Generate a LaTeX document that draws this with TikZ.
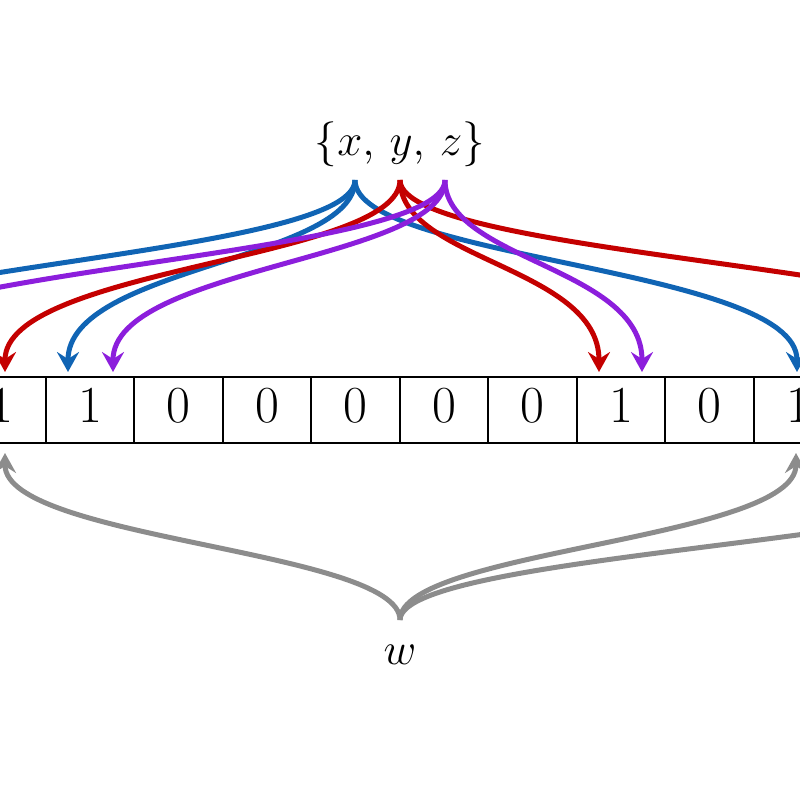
\RequirePackage{fix-cm}
\documentclass[tikz,border=0pt]{standalone}
\usetikzlibrary{arrows.meta}
\definecolor{hblue}{RGB}{16,100,180}
\definecolor{hred}{RGB}{196,0,0}
\definecolor{hpurple}{RGB}{140,30,220}
\definecolor{hgray}{RGB}{140,140,140}
\begin{document}
\begin{tikzpicture}[x=1pt,y=-1pt,
  hash/.style={line width=5pt, -{Stealth[length=20pt,width=22pt,inset=7pt]},
    to path={.. controls +(0,80) and +(0,-105) .. (\tikztotarget)}},
  query/.style={line width=5pt, color=hgray, -{Stealth[length=20pt,width=22pt,inset=7pt]},
    to path={.. controls +(0,-70) and +(0,87) .. (\tikztotarget)}},
  cell/.style={draw, line width=2pt, minimum width=88.5pt, minimum height=66pt,
    inner sep=0pt, text depth=9pt, font=\fontsize{52}{60}\selectfont},
  label/.style={inner sep=0pt, font=\fontsize{45}{54}\selectfont}]
\useasboundingbox (0,0) rectangle (800,800);
\clip (0,0) rectangle (800,800);

% bit array
\foreach \i/\b in {5/1,6/1,7/0,8/0,9/0,10/0,11/0,12/1,13/0,14/1}
  \node[cell] (c\i) at ({1.45+(\i-5)*88.5},410) {\b};

% labels
\node[label] (set) at (400,144) {$\{x,\,y,\,z\}$};
\node[label] (w) at (400,655) {$w$};

% hash start points
\coordinate (sx) at (355,180);
\coordinate (sy) at (400,180);
\coordinate (sz) at (445,180);
\coordinate (sw) at (400,620);

% targets
\coordinate (b1) at (-260,372);
\coordinate (b2) at (68,372);
\coordinate (b3) at (797,372);
\coordinate (r1) at (5,372);
\coordinate (r2) at (599,372);
\coordinate (r3) at (1063,372);
\coordinate (p1) at (-175,372);
\coordinate (p2) at (113,372);
\coordinate (p3) at (642,372);
\coordinate (g1) at (5,453);
\coordinate (g2) at (796,453);
\coordinate (g3) at (1050,453);

% query w
\draw[query] (sw) to (g1);
\draw[query] (sw) to (g2);
\draw[query] (sw) to (g3);

% hashes
\draw[hash, hblue] (sx) to (b1);
\draw[hash, hblue] (sx) to (b2);
\draw[hash, hblue] (sx) to (b3);
\draw[hash, hred] (sy) to (r1);
\draw[hash, hred] (sy) to (r2);
\draw[hash, hred] (sy) to (r3);
\draw[hash, hpurple] (sz) to (p1);
\draw[hash, hpurple] (sz) to (p2);
\draw[hash, hpurple] (sz) to (p3);
\end{tikzpicture}
\end{document}
